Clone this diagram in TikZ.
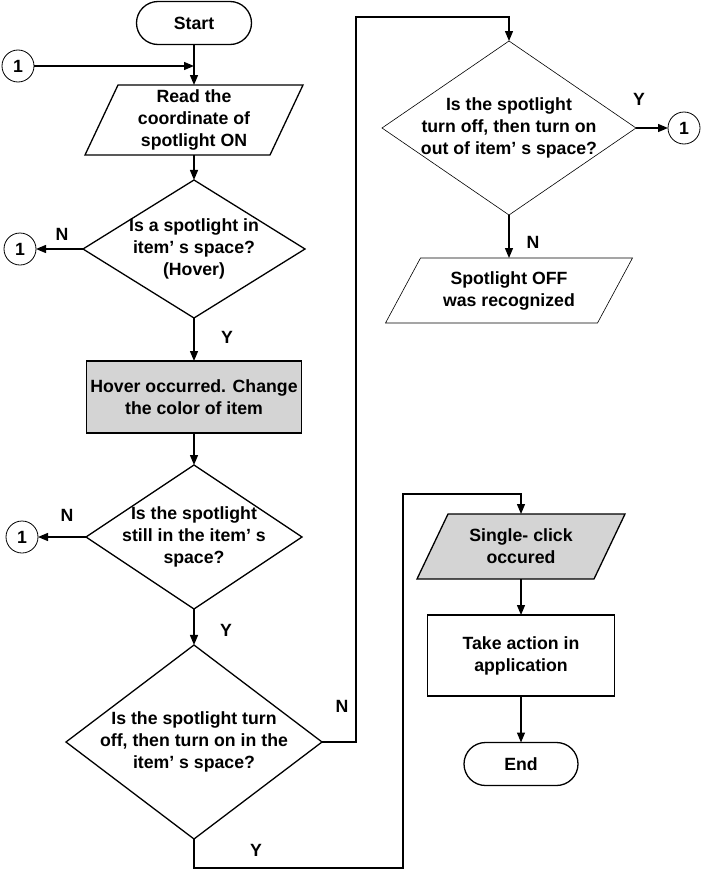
\documentclass[tikz,border=0pt]{standalone}
\usepackage{fontspec}
\setmainfont{Liberation Sans}
\usetikzlibrary{shapes.geometric,positioning,calc,arrows.meta,backgrounds}
\definecolor{boxgray}{gray}{0.83}
\newcommand{\parashape}[3][]{\draw[#1] ($(#2.south west)+(-#3,0)$) -- ($(#2.south east)+(-#3,0)$) -- ($(#2.north east)+(#3,0)$) -- ($(#2.north west)+(#3,0)$) -- cycle;}
\tikzset{
  base/.style={inner sep=0pt, outer sep=0pt, align=center},
  terminal/.style={base, draw, line width=1.3pt, rounded corners=21.5pt, minimum width=115pt, minimum height=43pt},
  decision/.style={base, draw, diamond, line width=1.3pt},
  qtext/.style={align=center, inner sep=0pt},
  process/.style={base, draw, line width=1.1pt},
  io/.style={base},
  connector/.style={base, draw, circle, line width=0.8pt, minimum size=32pt},
  flow/.style={line width=1.3pt, -{Triangle[length=10pt,width=8pt]}},
  lbl/.style={inner sep=0pt},
}

\begin{document}
\begin{tikzpicture}[every node/.style={font=\bfseries\fontsize{17.7}{22}\selectfont}]
    \useasboundingbox (0,0) rectangle (701pt,-870pt);
    % left column
    \node[terminal] (start) at (194pt,-23pt) {Start};
    \node[io, minimum width=185pt, minimum height=70pt, below=40.5pt of start] (read) {Read the\\coordinate of\\spotlight ON};
    \node[decision, minimum width=222pt, minimum height=138pt, below=25pt of read,
          label={[qtext]center:{Is a spotlight in\\item' s space?\\(Hover)}}] (q1) {};
    \node[process, fill=boxgray, minimum width=215pt, minimum height=72pt, below=43pt of q1] (hover) {Hover occurred. Change\\the color of item};
    \node[decision, minimum width=216pt, minimum height=144pt, below=32pt of hover,
          label={[qtext]center:{Is the spotlight\\still in the item' s\\space?}}] (q2) {};
    \node[decision, minimum width=256pt, minimum height=194pt, below=36pt of q2,
          label={[qtext]center:{Is the spotlight turn\\off, then turn on in the\\item' s space?}}] (q3) {};
    % right column
    \node[decision, line width=0.6pt, minimum width=254pt, minimum height=174pt,
          label={[qtext]center:{Is the spotlight\\turn off, then turn on\\out of item' s space?}}] (q4) at (509pt,-128pt) {};
    \node[io, minimum width=212pt, minimum height=65pt, below=43pt of q4] (off) {Spotlight OFF\\was recognized};
    \node[io, minimum width=177pt, minimum height=65pt] (click) at (521pt,-546.5pt) {Single- click\\occured};
    \node[process, minimum width=187pt, minimum height=81pt, below=36pt of click] (action) {Take action in\\application};
    \node[terminal, minimum width=114pt, below=46.5pt of action] (end) {End};
    % connectors
    \node[connector] (c0) at (18pt,-66pt) {1};
    \node[connector, left=47pt of q1] (c1) {1};
    \node[connector, left=48pt of q2] (c2) {1};
    \node[connector, right=32pt of q4] (c3) {1};
    \coordinate (nturn) at (356pt,-17pt);
    \coordinate (ybot) at (403pt,-868pt);
    \coordinate (ytop) at (403pt,-494pt);
    \begin{scope}[on background layer]
        \parashape[line width=1.3pt]{read}{16.5pt}
        \parashape[line width=0.6pt]{off}{17.5pt}
        \parashape[line width=1.3pt, fill=boxgray]{click}{15.5pt}
    \end{scope}
    \draw[flow] (start) -- (read);
    \draw[flow] (c0) -- (c0 -| start);
    \draw[flow] (read) -- (q1);
    \draw[flow] (q1) -- (c1);
    \draw[flow] (q1) -- (hover);
    \draw[flow] (hover) -- (q2);
    \draw[flow] (q2) -- (c2);
    \draw[flow] (q2) -- (q3);
    \draw[flow] (q3.east) -| (nturn) -| (q4.north);
    \draw[flow] (q3.south) |- (ybot) -- (ytop) -| (click.north);
    \draw[flow] (q4) -- (c3);
    \draw[flow] (q4) -- (off);
    \draw[flow] (click) -- (action);
    \draw[flow] (action) -- (end);
    % branch labels
    \node[lbl] (n1) at ($(q1.west)+(-21pt,15pt)$) {N};
    \node[lbl] (y1) at ($(q1.south)+(33pt,-19pt)$) {Y};
    \node[lbl] (n2) at ($(q2.west)+(-19pt,22pt)$) {N};
    \node[lbl] (y2) at ($(q2.south)+(32pt,-21pt)$) {Y};
    \node[lbl] (n3) at ($(q3.east)+(20pt,36pt)$) {N};
    \node[lbl] (y3) at ($(q3.south)+(62pt,-11pt)$) {Y};
    \node[lbl] (y4) at ($(q4.east)+(3pt,29pt)$) {Y};
    \node[lbl] (n4) at ($(q4.south)+(24pt,-27pt)$) {N};
\end{tikzpicture}
\end{document}
